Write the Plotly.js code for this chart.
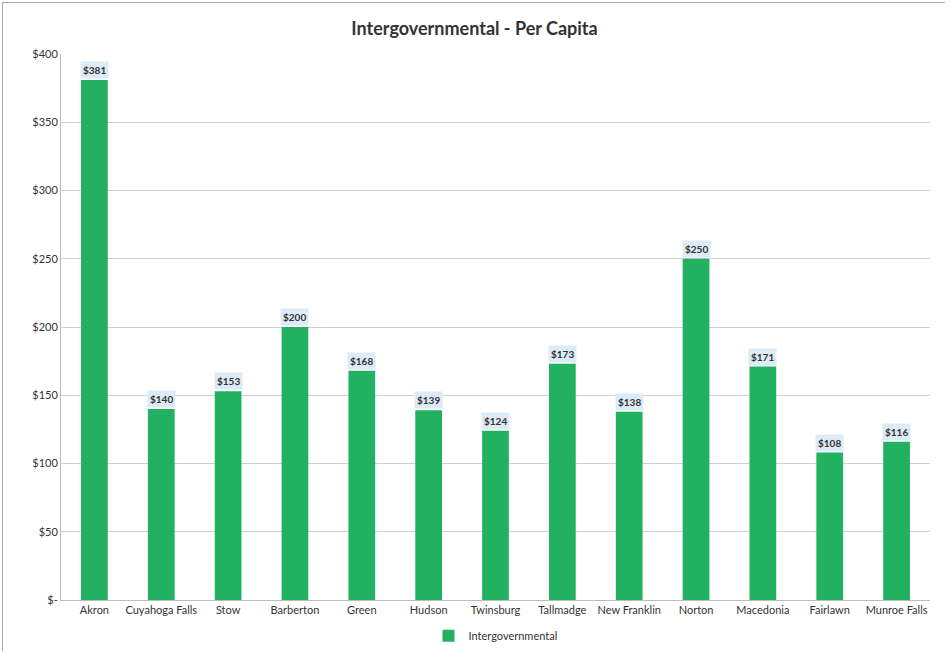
<!DOCTYPE html>
<html><head><meta charset="utf-8">
<script src="https://cdn.plot.ly/plotly-3.0.1.min.js"></script>
<style>html,body{margin:0;padding:0;background:#fff}#c{position:absolute;left:2px;top:2px;width:943px;height:649px;border:1px solid #aaa;box-sizing:border-box}</style>
</head><body><div id="c"></div>
<script>
const cities = ["Akron","Cuyahoga Falls","Stow","Barberton","Green","Hudson","Twinsburg","Tallmadge","New Franklin","Norton","Macedonia","Fairlawn","Munroe Falls"];
const perCapita = [381,140,153,200,168,139,124,173,138,250,171,108,116];
const yTicks = [0,50,100,150,200,250,300,350,400];
const yTickText = ["$-","$50","$100","$150","$200","$250","$300","$350","$400"];
const font = "Lato, 'Open Sans', sans-serif";
const trace = {type:"bar", x:cities, y:perCapita, name:"Intergovernmental",
  marker:{color:"#21b160"}, hoverinfo:"none"};
const ann = cities.map((c,i)=>({x:c, y:perCapita[i], text:"<b>$"+perCapita[i]+"</b>", showarrow:false,
  yanchor:"bottom", yshift:1, bgcolor:"#dcebf5", borderpad:2, font:{family:font,size:10,color:"#333"}}));
const layout = {
  width:943, height:649, margin:{l:58,r:16,t:51,b:52, autoexpand:false},
  paper_bgcolor:"#fff", plot_bgcolor:"#fff",
  title:{text:"<b>Intergovernmental - Per Capita</b>", x:0.5, xanchor:"center", y:0.97, yanchor:"top", font:{family:font,size:18,color:"#333"}},
  bargap:0.6,
  xaxis:{type:"category", tickfont:{family:font,size:11,color:"#333"}, showline:true, linecolor:"#bbb", ticks:"", showgrid:false, automargin:false},
  yaxis:{range:[0,400], tickvals:yTicks, ticktext:yTickText, tickfont:{family:font,size:11,color:"#333"},
    gridcolor:"#d0d0d0", showline:true, linecolor:"#bbb", zeroline:false, ticks:"", ticklen:0, automargin:false},
  showlegend:true,
  legend:{orientation:"h", x:0.5, xanchor:"center", yref:"container", y:0.025, yanchor:"middle", font:{family:font,size:11,color:"#333"}},
  annotations:ann
};
Plotly.newPlot("c",[trace],layout,{staticPlot:true});
</script></body></html>
